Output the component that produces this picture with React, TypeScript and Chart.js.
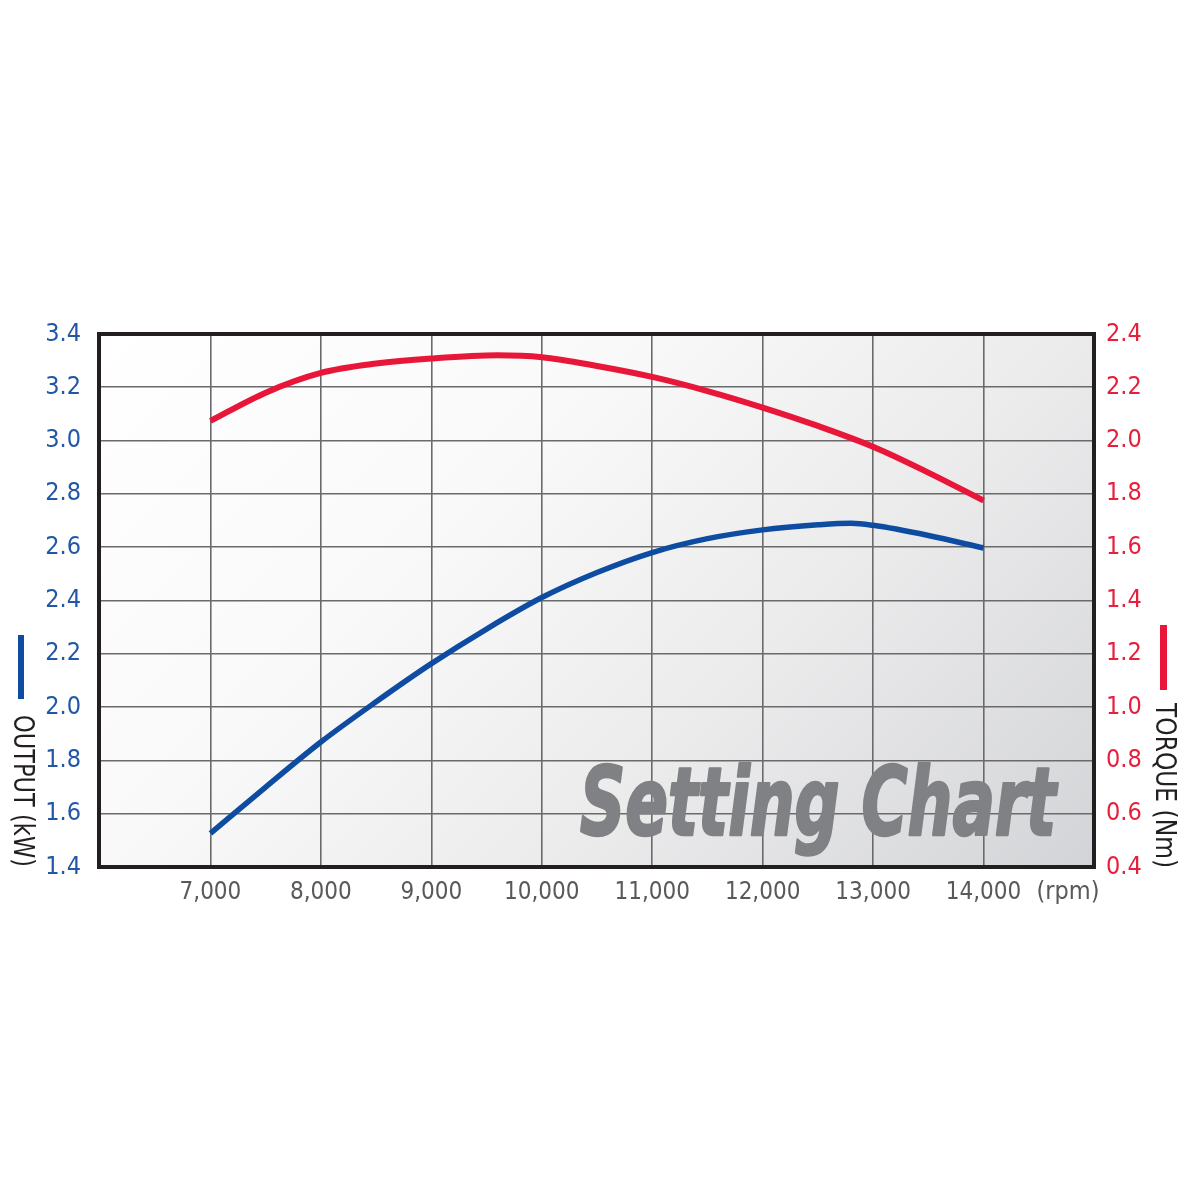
import React, { useEffect, useRef } from 'react';
import { Chart, registerables } from 'chart.js';

Chart.register(...registerables);

// ---- data ----
const rpmOutput = [7000, 7500, 8000, 8500, 9000, 9500, 10000, 10500, 11000, 11500, 12000, 12500, 12800, 13000, 13500, 14000];
const outputKW = [1.526, 1.7, 1.869, 2.02, 2.163, 2.293, 2.411, 2.505, 2.58, 2.632, 2.665, 2.684, 2.69, 2.682, 2.644, 2.597];

const rpmTorque = [7000, 7500, 8000, 8500, 9000, 9600, 10000, 10500, 11000, 11500, 12000, 12500, 13000, 13500, 14000];
const torqueNm = [2.074, 2.18, 2.254, 2.289, 2.308, 2.32, 2.313, 2.28, 2.239, 2.186, 2.124, 2.055, 1.977, 1.88, 1.775];

const xLabelMin = 7000;
const xLabelMax = 14000;

const outputLabel = 'OUTPUT (kW)';
const torqueLabel = 'TORQUE (Nm)';
const rpmLabel = '(rpm)';
const watermark = 'Setting Chart';

const FONT = "'Liberation Sans Narrow', 'DejaVu Sans Condensed', 'Roboto', sans-serif";
const BLUE = '#0d4ca1';
const RED = '#e8173a';
const BLUE_TXT = '#2157a6';
const RED_TXT = '#e61f3d';

const decorPlugin = {
  id: 'decor',
  beforeDraw(chart: any) {
    const { ctx, chartArea: a } = chart;
    const W = a.right - a.left;
    const H = a.bottom - a.top;
    const s = (W + H) / 2;
    const g = ctx.createLinearGradient(a.left, a.top, a.left + s, a.top + s);
    g.addColorStop(0, '#ffffff');
    g.addColorStop(0.35, '#f9f9f9');
    g.addColorStop(0.65, '#ebebec');
    g.addColorStop(1, '#d3d4d7');
    ctx.save();
    ctx.fillStyle = g;
    ctx.fillRect(a.left, a.top, W, H);
    ctx.restore();
  },
  beforeDatasetsDraw(chart: any) {
    const { ctx } = chart;
    ctx.save();
    ctx.font = `italic bold 94px ${FONT}`;
    ctx.fillStyle = '#808184';
    ctx.strokeStyle = '#808184';
    ctx.lineWidth = 2.5;
    ctx.lineJoin = 'round';
    ctx.textBaseline = 'alphabetic';
    ctx.textAlign = 'left';
    const w = ctx.measureText(watermark).width;
    ctx.translate(580, 835);
    ctx.scale(476 / w, 1);
    ctx.fillText(watermark, 0, 0);
    ctx.strokeText(watermark, 0, 0);
    ctx.restore();
  },
  afterDatasetsDraw(chart: any) {
    const { ctx, chartArea: a } = chart;
    ctx.save();
    // frame
    ctx.strokeStyle = '#231f20';
    ctx.lineWidth = 4;
    ctx.strokeRect(a.left - 1, a.top, a.right - a.left + 1, a.bottom - a.top);

    // axis titles (rotated, reading downward)
    const drawRot = (text: string, cx: number, y0: number, len: number) => {
      ctx.save();
      ctx.font = `28px ${FONT}`;
      ctx.fillStyle = '#231f20';
      ctx.textBaseline = 'middle';
      ctx.textAlign = 'left';
      const w = ctx.measureText(text).width;
      ctx.translate(cx, y0);
      ctx.rotate(Math.PI / 2);
      ctx.scale(len / w, 1);
      ctx.fillText(text, 0, 0);
      ctx.restore();
    };
    drawRot(outputLabel, 21, 715, 152);
    drawRot(torqueLabel, 1163, 703, 165);

    ctx.fillStyle = BLUE;
    ctx.fillRect(18, 635, 6, 64);
    ctx.fillStyle = RED;
    ctx.fillRect(1160, 625, 7, 65);

    // rpm unit
    ctx.font = `25px ${FONT}`;
    ctx.fillStyle = '#58595b';
    ctx.textAlign = 'center';
    ctx.textBaseline = 'middle';
    ctx.fillText(rpmLabel, 1068, 892);
    ctx.restore();
  },
};

export default function App() {
  const ref = useRef<HTMLCanvasElement | null>(null);

  useEffect(() => {
    if (!ref.current) return;
    const chart = new Chart(ref.current, {
      type: 'line',
      data: {
        datasets: [
          {
            label: outputLabel,
            data: rpmOutput.map((x, i) => ({ x, y: outputKW[i] })),
            borderColor: BLUE,
            borderWidth: 5.5,
            pointRadius: 0,
            cubicInterpolationMode: 'monotone',
            yAxisID: 'y',
          },
          {
            label: torqueLabel,
            data: rpmTorque.map((x, i) => ({ x, y: torqueNm[i] })),
            borderColor: RED,
            borderWidth: 6,
            pointRadius: 0,
            cubicInterpolationMode: 'monotone',
            yAxisID: 'y1',
          },
        ],
      },
      options: {
        responsive: false,
        animation: false,
        devicePixelRatio: 1,
        layout: { padding: { top: 334, left: 0, right: 0, bottom: 0 } },
        plugins: { legend: { display: false }, tooltip: { enabled: false } },
        scales: {
          x: {
            type: 'linear',
            min: 6000,
            max: 15000,
            border: { display: false },
            grid: { color: '#6a6a6c', lineWidth: 1.6, drawTicks: false },
            ticks: {
              stepSize: 1000,
              autoSkip: false,
              maxRotation: 0,
              padding: 11,
              color: '#58595b',
              font: { family: FONT, size: 24 },
              callback: (v: any) =>
                v >= xLabelMin && v <= xLabelMax ? Number(v).toLocaleString('en-US') : '',
            },
            afterFit: (s: any) => {
              s.height = 333;
            },
          },
          y: {
            type: 'linear',
            position: 'left',
            min: 1.4,
            max: 3.4,
            border: { display: false },
            grid: { color: '#6a6a6c', lineWidth: 1.6, drawTicks: false },
            ticks: {
              stepSize: 0.2,
              padding: 19,
              color: BLUE_TXT,
              font: { family: FONT, size: 25 },
              callback: (v: any) => Number(v).toFixed(1),
            },
            afterFit: (s: any) => {
              s.width = 100;
            },
          },
          y1: {
            type: 'linear',
            position: 'right',
            min: 0.4,
            max: 2.4,
            border: { display: false },
            grid: { display: false, drawTicks: false },
            ticks: {
              stepSize: 0.2,
              padding: 12,
              color: RED_TXT,
              font: { family: FONT, size: 25 },
              callback: (v: any) => Number(v).toFixed(1),
            },
            afterFit: (s: any) => {
              s.width = 106;
            },
          },
        },
      } as any,
      plugins: [decorPlugin],
    });
    return () => chart.destroy();
  }, []);

  return (
    <div style={{ position: 'absolute', left: 0, top: 0, width: 1200, height: 1200, background: '#fff' }}>
      <canvas ref={ref} width={1200} height={1200} style={{ display: 'block', width: 1200, height: 1200 }} />
    </div>
  );
}
